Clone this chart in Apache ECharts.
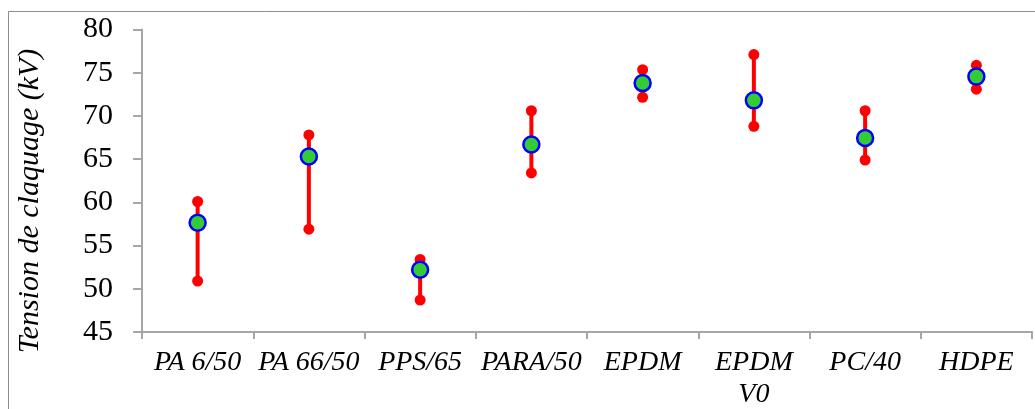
<!DOCTYPE html>
<html><head><meta charset="utf-8">
<script src="https://cdn.jsdelivr.net/npm/echarts@6/dist/echarts.min.js"></script>
<style>html,body{margin:0;padding:0;background:#fff}#c{width:1035px;height:409px}</style>
</head><body><div id="c"></div>
<script>
const categories = ['PA 6/50', 'PA 66/50', 'PPS/65', 'PARA/50', 'EPDM', 'EPDM\nV0', 'PC/40', 'HDPE'];
const highValues = [60.1, 67.8, 53.4, 70.6, 75.35, 77.1, 70.6, 75.85];
const meanValues = [57.65, 65.3, 52.2, 66.7, 73.8, 71.8, 67.45, 74.55];
const lowValues = [50.9, 56.9, 48.7, 63.4, 72.15, 68.8, 64.9, 73.1];
const yTicks = { min: 45, max: 80, interval: 5 };
const yTitle = 'Tension de claquage (kV)';

const chart = echarts.init(document.getElementById('c'));
const serif = 'Liberation Serif';
const axisGray = '#a6a6a6';
chart.setOption({
  animation: false,
  grid: { left: 142, right: 3, top: 29.5, bottom: 77, containLabel: false, outerBoundsMode: 'none' },
  graphic: [
    { type: 'rect', shape: { x: 8.5, y: 11.5, width: 1100, height: 500 }, style: { fill: 'none', stroke: '#8c8c8c', lineWidth: 1 }, silent: true, z: -1 },
    { type: 'text', x: 30, y: 201, rotation: Math.PI / 2, style: { text: yTitle, fontFamily: serif, fontStyle: 'italic', fontSize: 30, fill: '#000', align: 'center', verticalAlign: 'middle' } }
  ],
  xAxis: {
    type: 'category', data: categories, boundaryGap: true,
    axisLine: { lineStyle: { color: axisGray, width: 2 } },
    axisTick: { show: true, length: 7, lineStyle: { color: axisGray, width: 2 } },
    axisLabel: { fontFamily: serif, fontStyle: 'italic', fontSize: 28, color: '#000', margin: 15, lineHeight: 32, interval: 0 },
    splitLine: { show: false }
  },
  yAxis: {
    type: 'value', min: yTicks.min, max: yTicks.max, interval: yTicks.interval,
    axisLine: { show: true, lineStyle: { color: axisGray, width: 2 } },
    axisTick: { show: true, length: 9, lineStyle: { color: axisGray, width: 2 } },
    axisLabel: { fontFamily: serif, fontSize: 30, color: '#000', margin: 29 },
    splitLine: { show: false }
  },
  series: [
    {
      type: 'custom',
      data: categories.map((c, i) => [i, lowValues[i], highValues[i]]),
      renderItem: function (params, api) {
        const p1 = api.coord([api.value(0), api.value(1)]);
        const p2 = api.coord([api.value(0), api.value(2)]);
        return { type: 'line', shape: { x1: p1[0], y1: p1[1], x2: p2[0], y2: p2[1] }, style: { stroke: '#ff0000', lineWidth: 4 } };
      },
      z: 1
    },
    { type: 'scatter', data: highValues, symbol: 'circle', symbolSize: 11, itemStyle: { color: '#ff0000', opacity: 1 }, z: 2 },
    { type: 'scatter', data: lowValues, symbol: 'circle', symbolSize: 11, itemStyle: { color: '#ff0000', opacity: 1 }, z: 2 },
    { type: 'scatter', data: meanValues, symbol: 'circle', symbolSize: 16, itemStyle: { color: '#33cc33', borderColor: '#0000ff', borderWidth: 2.5, opacity: 1 }, z: 3 }
  ]
});
</script></body></html>
